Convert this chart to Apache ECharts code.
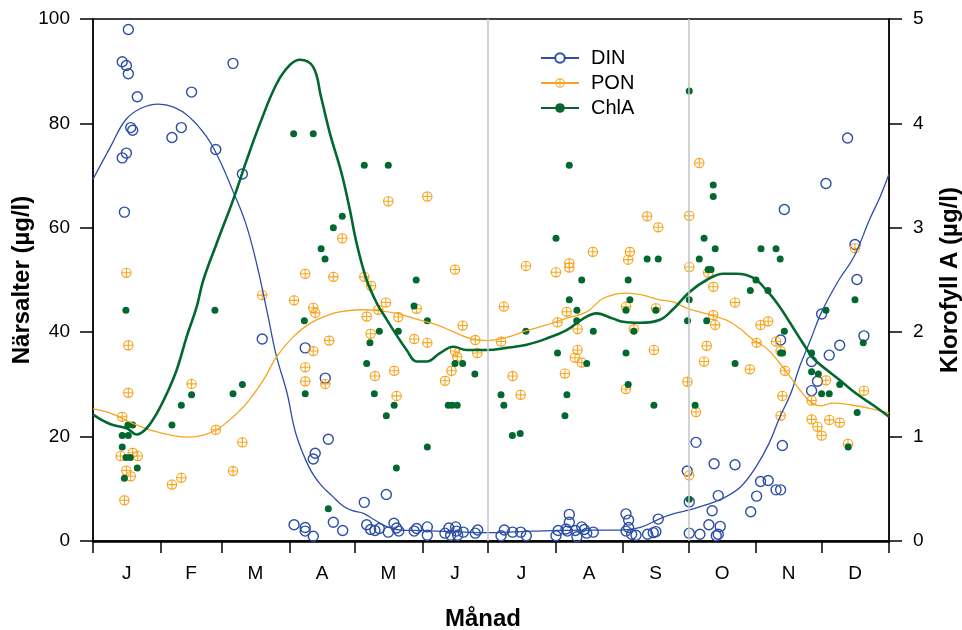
<!DOCTYPE html>
<html><head><meta charset="utf-8">
<script src="https://cdn.jsdelivr.net/npm/echarts@6/dist/echarts.min.js"></script>
<style>html,body{margin:0;padding:0;background:#fff}#c{width:962px;height:630px}</style>
</head><body><div id="c"></div>
<script>
const monthLetters = ['J','F','M','A','M','J','J','A','S','O','N','D'];
const monthStarts = [0,31,59,90,120,151,181,212,243,273,304,334,365];
const monthMids = [15.5,45,74.5,105,135.5,166,196.5,227.5,258,288.5,319,349.5];
const periodLines = [181,273];
const leftTicks = [0,20,40,60,80,100];
const rightTicks = [0,1,2,3,4,5];

// observations [day of year, value]
const dinObs = [[16.2,98.0],[13.4,91.8],[15.3,91.1],[16.2,89.5],[20.3,85.1],[17.3,79.2],[18.2,78.7],[15.3,74.3],[13.4,73.4],[14.4,63.0],[36.2,77.3],[40.5,79.2],[45.2,86.0],[56.3,75.0],[64.2,91.5],[68.5,70.3],[77.6,38.7],[97.3,37.0],[106.5,31.2],[107.9,19.5],[101.9,16.8],[101.0,15.7],[92.2,3.1],[97.3,2.6],[97.3,1.9],[101.0,0.9],[110.2,3.6],[114.5,2.0],[124.4,7.4],[134.5,8.9],[125.5,3.1],[127.3,2.2],[129.3,2.0],[131.3,2.4],[135.4,1.7],[138,3.4],[139.2,2.5],[140.2,1.9],[147.3,1.9],[148.4,2.4],[153.3,2.7],[153.3,1.1],[161.4,1.5],[163.2,2.5],[164.0,1.1],[166.3,2.7],[166.7,1.9],[167.2,1.1],[169.8,1.7],[175.3,1.5],[176.4,2.1],[187.1,1.0],[188.6,2.1],[192.4,1.7],[196.1,1.7],[198.7,1.0],[212.3,1.0],[213.3,2.0],[216.9,2.3],[218.4,5.1],[218.4,3.6],[217.5,1.9],[221.2,2.0],[221.9,0.8],[224.1,2.7],[225.3,2.2],[226.4,1.5],[229.4,1.7],[244.4,5.2],[245.6,4.0],[244.4,1.9],[245.6,2.6],[247,1.3],[249,1.1],[254.3,1.3],[256.9,1.6],[258.1,1.8],[259.2,4.2],[272.5,13.4],[273.4,7.5],[273.4,1.5],[276.5,18.9],[278.3,1.3],[282.4,3.1],[283.9,5.8],[284.8,14.8],[286.7,8.7],[287.6,2.8],[285.8,1.0],[286.7,1.3],[294.4,14.6],[301.6,5.6],[304.3,8.6],[306.1,11.4],[309.6,11.6],[313.2,9.8],[315.3,9.8],[316.1,18.3],[315.3,38.5],[329.5,28.8],[329.5,34.4],[332.2,30.6],[334.1,43.5],[337.6,35.6],[342.4,37.5],[353.5,39.3],[346,77.2],[336.1,68.5],[317,63.5],[349.4,56.8],[350.3,50.1]];
const ponObs = [[15.3,51.4],[97.3,51.2],[77.6,47.1],[92.2,46.1],[101,44.7],[101.9,43.7],[16.2,37.5],[16.2,28.4],[13.4,23.8],[12.7,16.3],[18.2,16.9],[20.5,16.3],[15.3,13.5],[17.3,12.4],[14.4,7.8],[36.2,10.8],[40.5,12.1],[45.2,30.1],[56.3,21.3],[64.2,13.4],[68.5,18.9],[97.3,33.3],[101,36.4],[97.3,30.6],[106.5,30.1],[108.3,38.4],[135.4,65.1],[153.3,66.0],[114.3,58.0],[110.2,50.6],[124.4,50.6],[127.5,48.9],[134.3,45.7],[148.4,44.5],[166,52.0],[125.5,43.0],[140,42.9],[130.8,44.3],[188.4,44.9],[198.5,52.7],[212.3,51.5],[218.4,53.2],[218.4,52.4],[229.2,55.4],[246.2,55.4],[245.4,53.9],[254.1,62.2],[217.2,43.9],[244.4,44.9],[127.3,39.7],[147.3,38.7],[153.3,38.0],[169.5,41.3],[166,36.4],[167,35.3],[175.3,38.5],[176.2,36.0],[164.4,32.6],[161.4,30.7],[129.3,31.6],[138.1,32.6],[139.2,27.8],[187.1,38.2],[192.4,31.6],[196.1,28.0],[213,41.9],[222.2,40.6],[222.2,36.6],[221,35.1],[224.1,34.2],[216.4,32.1],[244.4,29.1],[248,40.6],[257.2,36.6],[272.6,30.5],[273.4,12.6],[276.5,24.7],[280.2,34.4],[281.4,37.4],[284.4,43.3],[285.3,41.4],[301.2,32.9],[304.3,38.0],[306.1,41.4],[309.6,42.1],[313.2,38.2],[315.3,36.4],[317.3,32.6],[316.1,27.8],[315.3,24.0],[329.5,26.9],[329.5,23.3],[332.2,21.9],[334.1,20.2],[336.1,30.8],[337.6,23.2],[342.4,22.7],[346.2,18.6],[353.5,28.8],[278,72.4],[259.2,60.1],[273.4,62.3],[273.4,52.5],[282.1,51.4],[284.4,48.7],[294.4,45.7],[258.1,44.6],[349.4,56.1]];
const chlaObs = [[92,3.90],[101,3.90],[104.6,2.80],[106.4,2.70],[15.1,2.21],[55.9,2.21],[96.9,2.11],[97.3,1.41],[16,1.11],[18.2,1.11],[13.4,1.01],[16.2,1.01],[13.4,0.90],[15.1,0.80],[17.1,0.80],[20.3,0.70],[14.4,0.60],[36.2,1.11],[40.5,1.30],[45.2,1.40],[64.2,1.41],[68.5,1.50],[107.9,0.31],[124.4,3.60],[135.4,3.60],[218.4,3.60],[114.3,3.11],[110.2,3.00],[148.2,2.50],[212.3,2.90],[224.1,2.50],[245.4,2.50],[254.1,2.70],[218.4,2.31],[246.2,2.31],[221.9,2.21],[244.4,2.21],[147.2,2.25],[153.3,2.11],[131.3,2.01],[140,2.01],[127,1.90],[125.5,1.70],[129,1.41],[138.1,1.30],[134.5,1.20],[153.3,0.90],[139.1,0.70],[166,1.70],[169.5,1.70],[175.1,1.60],[162.9,1.30],[164.7,1.30],[167,1.30],[187.1,1.40],[188.4,1.30],[192.3,1.01],[195.9,1.03],[198.5,2.01],[213,1.80],[217.3,1.40],[216.4,1.20],[221.8,2.11],[229.4,2.01],[226.4,1.70],[244.4,1.80],[245.4,1.50],[248,2.01],[257.2,1.30],[273.4,4.31],[284.4,3.41],[284.4,3.30],[280.2,2.90],[285.3,2.80],[259.2,2.70],[278,2.70],[282.1,2.60],[283.4,2.60],[306.3,2.80],[313.2,2.80],[315.1,2.70],[304,2.50],[301.4,2.40],[309.5,2.40],[273.4,2.31],[258.1,2.21],[349.4,2.31],[336.1,2.21],[272.6,2.11],[281.4,2.11],[317,2.01],[315.3,1.80],[316.2,1.80],[294.4,1.70],[329.5,1.80],[329.5,1.62],[332.6,1.60],[334.1,1.41],[337.6,1.41],[342.4,1.50],[350.4,1.23],[353.2,1.90],[346.3,0.90],[276.1,1.30],[273.4,0.40]];

// smoothed curves [day, value]
const dinCurve = [[0,69.3],[8,75.5],[15,80.7],[22,82.9],[30,83.7],[37,83.1],[44,81.3],[52,77.5],[58,73.0],[64,67.2],[70,60.9],[75,53.2],[80,43.6],[84,35.6],[89,28.3],[93,20.6],[99,14.2],[104,11.0],[110,8.5],[115,6.6],[119,5.8],[124,5.3],[128,4.3],[135,2.7],[141,2.1],[150,2.0],[165,1.8],[180,1.6],[196,1.8],[211,2.0],[226,2.1],[242,2.1],[251,2.6],[260,4.3],[266,5.2],[273,5.9],[281,6.9],[289,8.2],[297,10.4],[304,14.2],[310,18.7],[315,23.8],[320,28.3],[324,33.4],[329,38.5],[334,43.8],[342,50.0],[349,54.5],[356,61.5],[361,66.0],[365,70.3]];
const ponCurve = [[0,25.3],[8,24.5],[18.5,22.5],[27.6,21.1],[36.8,20.2],[43.7,19.9],[50.6,20.3],[56.7,21.3],[64.3,23.8],[70.5,26.4],[78.1,30.8],[84.2,35.3],[91.8,39.1],[99.5,41.7],[108.7,43.4],[113.2,43.9],[122.4,44.3],[131.6,44.1],[139.2,43.6],[149.9,42.3],[157.6,41.4],[165.2,40.1],[172.9,38.8],[180.5,38.4],[189.7,39.0],[198.9,40.3],[208,41.4],[217.2,42.7],[226.4,43.9],[234,46.5],[244.7,47.5],[251,47.2],[260,46.2],[266,45.8],[272.2,44.6],[281.4,43.5],[290.5,42.3],[296.6,40.7],[302.8,38.5],[308.9,36.9],[315,34.0],[319.6,31.5],[324.2,28.9],[328.8,26.7],[333.4,25.9],[339.4,26.4],[347.1,26.1],[356.2,25.4],[365,24.5]];
const chlaCurve = [[0,1.21],[7.8,1.12],[15.4,1.08],[20,1.02],[24.6,1.08],[29.2,1.22],[33.8,1.41],[38.4,1.64],[43,1.96],[47.5,2.24],[50.6,2.50],[56.7,2.85],[64.3,3.27],[70.5,3.65],[76.6,4.00],[84.2,4.38],[90.3,4.56],[94.9,4.61],[101,4.54],[104.5,4.26],[108.7,3.90],[114,3.52],[117.8,3.17],[120.9,2.85],[125.5,2.50],[130.1,2.28],[134.7,2.12],[137.7,2.02],[143.8,1.83],[148.4,1.72],[153,1.72],[159.1,1.80],[165.2,1.86],[171.3,1.83],[180.5,1.83],[189.7,1.85],[198.9,1.88],[208,1.94],[217.2,2.02],[224.8,2.13],[230.9,2.18],[238.5,2.13],[243.1,2.10],[250.8,2.09],[260,2.12],[266,2.22],[273.8,2.39],[281.4,2.50],[289,2.56],[295.1,2.56],[302.8,2.52],[308.9,2.40],[315,2.24],[319.6,2.09],[325.7,1.89],[330.3,1.75],[336.4,1.64],[342.5,1.54],[350.1,1.41],[357.8,1.30],[365,1.19]];

const C_DIN = '#2D4EA6', C_PON = '#F7A51E', C_CHLA = '#02682F';
const FONT = "'Liberation Sans', Arial, sans-serif";
const crossCircle = 'path://M0,10 A10,10 0 1,1 20,10 A10,10 0 1,1 0,10 Z M2.2,10 A7.8,7.8 0 1,0 17.8,10 A7.8,7.8 0 1,0 2.2,10 Z M9.0,0 H11.0 V20 H9.0 Z M0,9.0 H20 V11.0 H0 Z';

const chart = echarts.init(document.getElementById('c'), null, {renderer:'canvas'});
chart.setOption({
  animation: false,
  backgroundColor: '#fff',
  grid: {left: 93, right: 73, top: 19, bottom: 89, show: true, borderColor: '#000', borderWidth: 1.3, containLabel: false, outerBoundsMode: 'none'},
  legend: {
    data: ['DIN','PON','ChlA'], orient: 'vertical', left: 535, top: 43,
    itemWidth: 38, itemHeight: 12, itemGap: 5, selectedMode: false,
    textStyle: {fontSize: 20, fontFamily: FONT, color: '#000', padding: [0,0,0,7]}
  },
  xAxis: {
    type: 'value', min: 0, max: 365,
    axisLine: {show: true, onZero: false, lineStyle: {color: '#000', width: 2.5}},
    axisTick: {show: true, length: 12, lineStyle: {color: '#000', width: 1.5}, customValues: monthStarts},
    axisLabel: {show: true, margin: 23, fontSize: 19, fontFamily: FONT, color: '#000', customValues: monthMids,
      formatter: v => { const i = monthMids.indexOf(v); return i >= 0 ? monthLetters[i] : ''; }},
    splitLine: {show: false}
  },
  yAxis: [{
    type: 'value', min: 0, max: 100, interval: 20, position: 'left',
    name: 'Närsalter (µg/l)', nameLocation: 'middle', nameGap: 59, nameRotate: 90, nameMoveOverlap: false,
    nameTextStyle: {fontSize: 24, fontWeight: 'bold', fontFamily: FONT, color: '#000'},
    axisLine: {show: true, lineStyle: {color: '#000', width: 1.5}},
    axisTick: {show: true, length: 13, lineStyle: {color: '#000', width: 1.5}, customValues: leftTicks},
    axisLabel: {margin: 23, fontSize: 19, fontFamily: FONT, color: '#000'},
    splitLine: {show: false}
  }, {
    type: 'value', min: 0, max: 5, interval: 1, position: 'right',
    name: 'Klorofyll A (µg/l)', nameLocation: 'middle', nameGap: 49, nameRotate: 90, nameMoveOverlap: false,
    nameTextStyle: {fontSize: 24, fontWeight: 'bold', fontFamily: FONT, color: '#000'},
    axisLine: {show: true, lineStyle: {color: '#000', width: 1.5}},
    axisTick: {show: true, length: 13, lineStyle: {color: '#000', width: 1.5}, customValues: rightTicks},
    axisLabel: {margin: 24, fontSize: 19, fontFamily: FONT, color: '#000'},
    splitLine: {show: false}
  }],
  graphic: [{type: 'text', x: 483, y: 619, silent: true,
    style: {text: 'Månad', fill: '#000', font: "bold 24px 'Liberation Sans', Arial, sans-serif", align: 'center', verticalAlign: 'middle'}}],
  series: [
    {name: 'DIN', type: 'line', data: dinCurve, smooth: 0.4, showSymbol: false, symbol: 'emptyCircle', yAxisIndex: 0,
      lineStyle: {color: C_DIN, width: 1.3}, itemStyle: {color: C_DIN}, z: 4},
    {name: 'PON', type: 'line', data: ponCurve, smooth: 0.4, showSymbol: false, symbol: crossCircle, yAxisIndex: 0,
      lineStyle: {color: C_PON, width: 1.3}, itemStyle: {color: C_PON}, z: 4},
    {name: 'ChlA', type: 'line', data: chlaCurve, smooth: 0.4, showSymbol: false, symbol: 'circle', yAxisIndex: 1,
      lineStyle: {color: C_CHLA, width: 2.6}, itemStyle: {color: C_CHLA}, z: 4},
    {name: 'DIN obs', type: 'scatter', data: dinObs, yAxisIndex: 0, symbol: 'circle', symbolSize: 10,
      itemStyle: {color: 'rgba(0,0,0,0)', borderColor: C_DIN, borderWidth: 1.4, opacity: 1}, z: 3,
      markLine: {silent: true, symbol: ['none','none'], label: {show: false},
        lineStyle: {color: '#c4c4c4', width: 1.5, type: 'solid'},
        data: periodLines.map(d => ({xAxis: d}))}},
    {name: 'PON obs', type: 'scatter', data: ponObs, yAxisIndex: 0, symbol: crossCircle, symbolSize: 10.5,
      itemStyle: {color: C_PON, opacity: 1}, z: 3},
    {name: 'ChlA obs', type: 'scatter', data: chlaObs, yAxisIndex: 1, symbol: 'circle', symbolSize: 7,
      itemStyle: {color: C_CHLA, opacity: 1}, z: 3}
  ]
});
</script></body></html>
